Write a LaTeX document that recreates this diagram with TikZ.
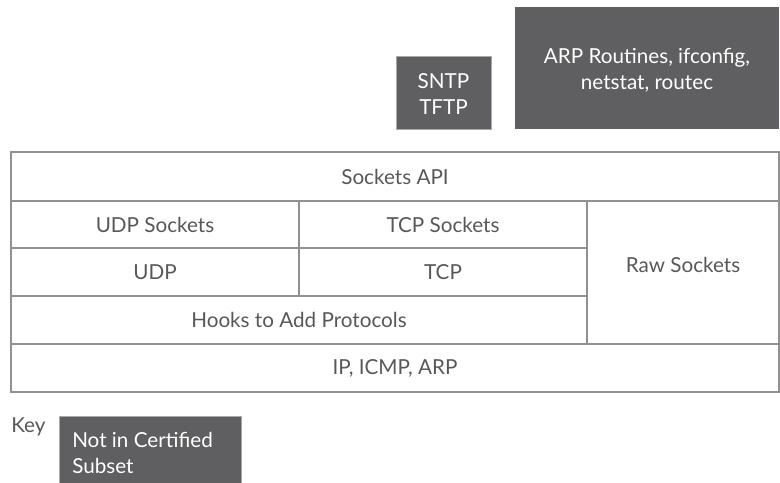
\documentclass[tikz,border=0pt]{standalone}
\usepackage{fontspec}
\setmainfont{Lato}
\usetikzlibrary{fit}
\definecolor{darkbox}{RGB}{95,94,96}
\definecolor{edgegray}{RGB}{145,145,145}
\definecolor{txtgray}{RGB}{88,88,88}
\definecolor{boxedge}{RGB}{170,170,170}
\begin{document}
\begin{tikzpicture}[x=0.75pt,y=-0.75pt,
  cell/.style={draw=edgegray,line width=1pt,inner sep=0pt},
  dark/.style={fill=darkbox,inner sep=0pt},
  tx/.style={text=txtgray,font=\fontsize{15.5}{19.3}\selectfont,inner sep=0pt},
  wt/.style={text=white,font=\fontsize{15.5}{19.3}\selectfont,inner sep=0pt,align=center},
]
\useasboundingbox (0,0) rectangle (780,482);
% top dark boxes
\node[dark,draw=boxedge,line width=0.5pt,fit={(396,56) (491,129)}] (sntp) {};
\node[wt] (sntpt) at (443.5,94) {SNTP\\TFTP};
\node[dark,fit={(515,7) (779,129)}] (arp) {};
\node[wt] (arpt) at (647,70) {ARP Routines, ifconfig,\\netstat, routec};
% table
\node[cell,fit={(11,152) (779,201)}] (api) {};
\node[tx] at (api.center) {Sockets API};
\node[cell,fit={(11,201) (299,248)}] (udps) {};
\node[tx] at (udps.center) {UDP Sockets};
\node[cell,fit={(299,201) (587,248)}] (tcps) {};
\node[tx] at (tcps.center) {TCP Sockets};
\node[cell,fit={(11,248) (299,296)}] (udp) {};
\node[tx] at (udp.center) {UDP};
\node[cell,fit={(299,248) (587,296)}] (tcp) {};
\node[tx] at (tcp.center) {TCP};
\node[cell,fit={(11,296) (587,344)}] (hooks) {};
\node[tx] at (hooks.center) {Hooks to Add Protocols};
\node[cell,fit={(587,201) (779,344)}] (raw) {};
\node[tx] (rawt) at (683,265) {Raw Sockets};
\node[cell,fit={(11,344) (779,392)}] (ip) {};
\node[tx] at (ip.center) {IP, ICMP, ARP};
% key
\node[tx,anchor=base west] (key) at (11,432) {Key};
\node[dark,draw=boxedge,line width=0.5pt,fit={(59,416) (241,483)}] (keybox) {};
\node[wt,anchor=base west,align=left] (keyt) at (72,473) {Not in Certified\\Subset};
\end{tikzpicture}
\end{document}
